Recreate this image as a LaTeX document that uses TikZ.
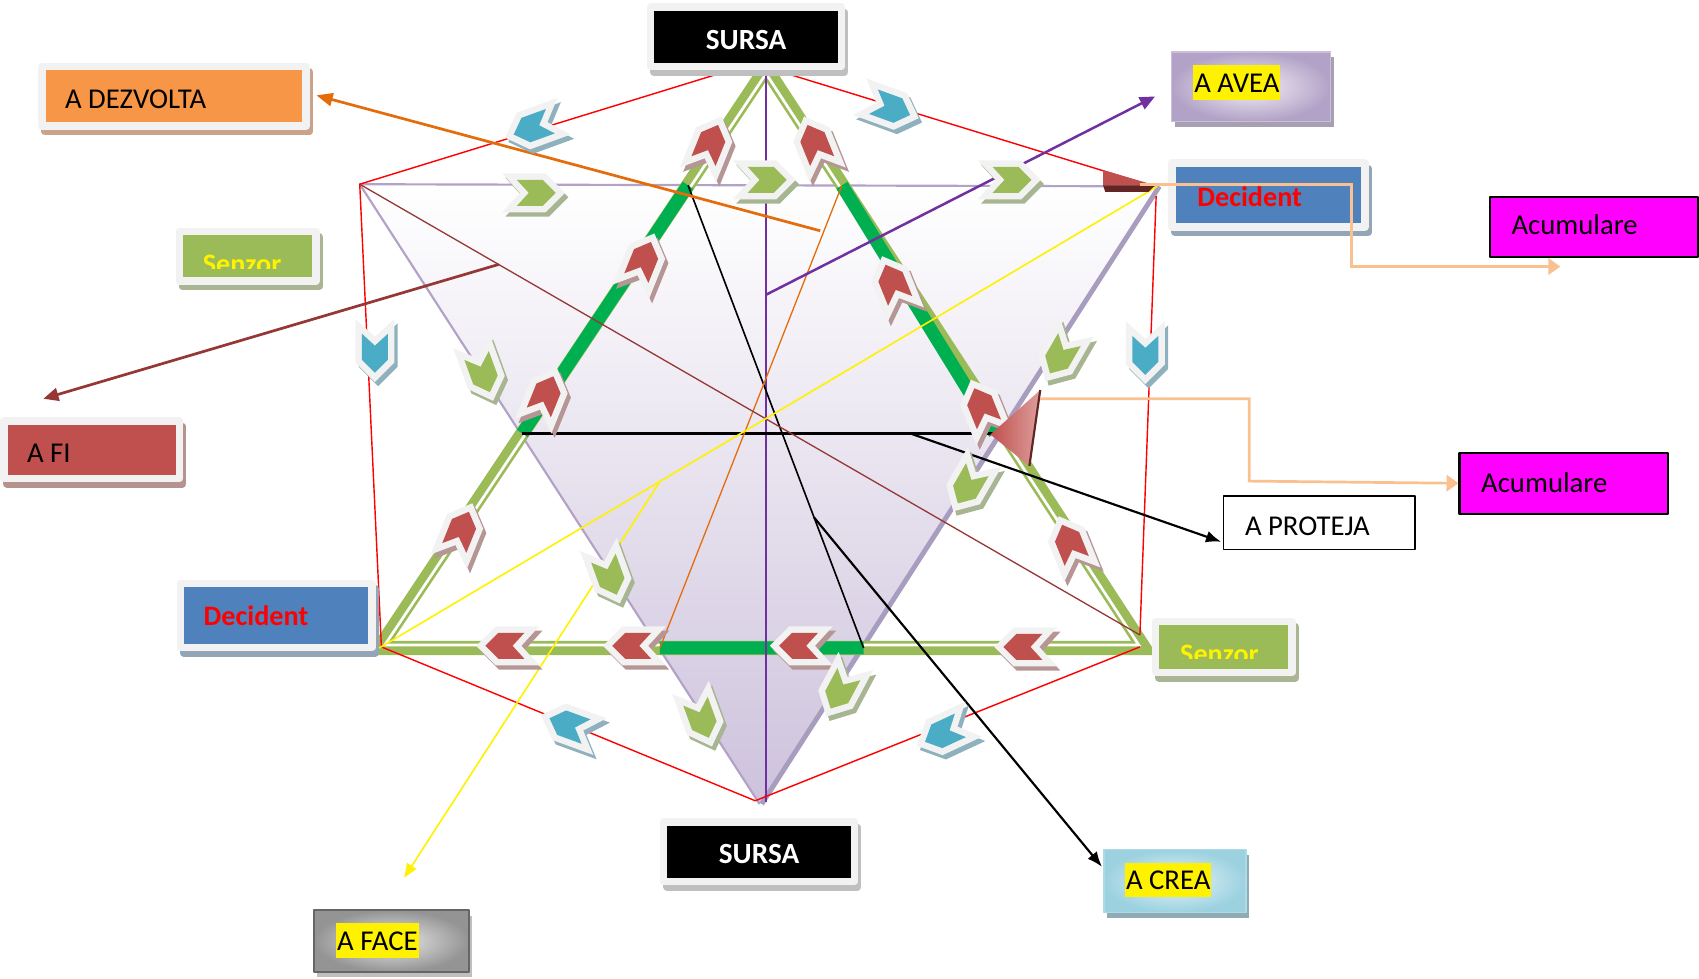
\documentclass[tikz,border=0pt]{standalone}
\usepackage{fontspec}
\setmainfont{Carlito}
\usetikzlibrary{arrows.meta,calc}
\definecolor{frm}{HTML}{F2F2F2}
\definecolor{redb}{HTML}{C0504D}
\definecolor{blueb}{HTML}{4F81BD}
\definecolor{greenb}{HTML}{9BBB59}
\definecolor{orangeb}{HTML}{F79646}
\definecolor{cyanb}{HTML}{4BACC6}
\definecolor{brightg}{HTML}{00B050}
\definecolor{purp}{HTML}{7030A0}
\definecolor{orl}{HTML}{E46C0A}
\definecolor{brn}{HTML}{953735}
\definecolor{peach}{HTML}{FAC090}
\definecolor{lavl}{HTML}{B3A2C7}
\definecolor{lavf}{HTML}{CDC2DC}
\definecolor{lave}{HTML}{A89CBF}
\definecolor{shR}{HTML}{B69694}
\definecolor{shG}{HTML}{A8B592}
\definecolor{shB}{HTML}{8FB1BE}
\definecolor{shO}{HTML}{CBA38A}
\definecolor{shK}{HTML}{BFBFBF}
\definecolor{shBl}{HTML}{95A5B8}
\definecolor{shGb}{HTML}{A9B593}
\definecolor{shRb}{HTML}{B59490}
\definecolor{shAv}{HTML}{A7A0B3}
\definecolor{shCr}{HTML}{8FABB5}
\definecolor{magb}{HTML}{FF00FF}
\definecolor{dkred}{HTML}{632523}
\newcommand\lbl{\fontsize{26.5pt}{30pt}\selectfont}
\newcommand\lblb{\fontsize{26pt}{30pt}\selectfont\bfseries}
\newcommand\lbls{\fontsize{27pt}{30pt}\selectfont\bfseries}
% chevron: x, y, angle, fill colour, shadow colour
\newcommand\chev[5]{%
\filldraw[#5,line width=12pt,line join=miter,shift={(#1+3,#2+4)},rotate=#3] (-18,-12)--(6,-12)--(18,0)--(6,12)--(-18,12)--(-7,0)--cycle;
\filldraw[frm,line width=12pt,line join=miter,shift={(#1,#2)},rotate=#3] (-18,-12)--(6,-12)--(18,0)--(6,12)--(-18,12)--(-7,0)--cycle;
\fill[#4,shift={(#1,#2)},rotate=#3] (-18,-12)--(6,-12)--(18,0)--(6,12)--(-18,12)--(-7,0)--cycle;}
\tikzset{
  fbox/.style 2 args={fill=#1,draw=frm,line width=7pt,inner ysep=0pt,text depth=0pt,
    preaction={fill=#2,draw=#2,line width=7pt,transform canvas={shift={(3pt,-5pt)}}}},
  gbox/.style 2 args={shade,inner color=#1,outer color=#2,inner sep=0pt},
  hl/.style={fill=yellow,inner xsep=1pt,inner ysep=0pt,text height=25pt,text depth=7pt,font=\lbl,anchor=base west},
  plainbox/.style={draw=black,inner ysep=0pt,text depth=0pt,font=\lbl,align=flush left},
  redl/.style={red,line width=1.3pt},
}
\begin{document}
\begin{tikzpicture}[x=1pt,y=-1pt,line join=round]
\useasboundingbox (0,0) rectangle (1568,903);
% key points
\coordinate (T) at (707,63);
\coordinate (L1) at (332,170);
\coordinate (R1) at (1068,172);
\coordinate (B) at (701,742);
\coordinate (GL) at (350,598);
\coordinate (GR) at (1056,598);
\coordinate (I) at (705.2,408);
\coordinate (H1) at (635,171);
\coordinate (H2) at (777,171);
\coordinate (H3) at (918,400);
\coordinate (H4) at (797,598);
\coordinate (H5) at (609,598);
\coordinate (H6) at (482,400);
\coordinate (VB) at (707,740);
\coordinate (rTa) at (683,62);
\coordinate (rTb) at (707,62);
\coordinate (rL2) at (352,597);
\coordinate (rB) at (697,739);
\coordinate (rR2) at (1052,597);
\coordinate (rR2b) at (1052,586);
\coordinate (rR1) at (1067,181);
\coordinate (rR1a) at (1065,172);

% inverted triangle
\shade[top color=white,bottom color=lavf] (L1) -- (R1) -- (B) -- cycle;
\draw[lave,line width=4.5pt] ([xshift=2pt]R1) -- ([xshift=2pt]B);
\draw[lavl,line width=2pt] (R1) -- (L1) -- (B);

% upright double green triangle
\draw[greenb,line width=13pt,line join=miter] (T) -- (GL) -- (GR) -- cycle;
\draw[white,line width=2.5pt,line join=miter] ($(I)!0.9855!(T)$) -- ($(I)!0.9855!(GL)$) -- ($(I)!0.9855!(GR)$) -- cycle;
\draw[brightg,line width=12pt] (H1) -- (H6) (H2) -- (H3) (H5) -- (H4);

% straight lines
\draw[purp,line width=1.3pt] (T) -- (VB);
\draw[redl] (rTa) -- (L1) -- (rL2) -- (rB) -- (rR2);
\draw[redl] (rR2b) -- (rR1);
\draw[redl] (rTb) -- (rR1a);
\draw[black,line width=1.5pt] (H1) -- (H4);
\draw[black,line width=2pt] (H6) -- (H3);
\draw[orl,line width=1.2pt] (H5) -- (H2);
\draw[brn,line width=1.2pt] (L1) -- (rR2b);
\draw[yellow,line width=1.5pt] (GL) -- (R1);

% arrows to labels
\coordinate (aveaIn) at (1066,89);
\coordinate (dezvIn) at (292,88);
\coordinate (fiIn) at (40,368);
\coordinate (faceIn) at (373,810);
\coordinate (protIn) at (1127,500);
\coordinate (creaIn) at (1017,800);
\coordinate (oStart) at (757,213);
\draw[purp,line width=2.3pt,-{Triangle[length=14pt,width=12pt]}] (707,272) -- (aveaIn);
\draw[orl,line width=2.5pt,-{Triangle[length=15pt,width=12pt]}] (oStart) -- (dezvIn);
\draw[brn,line width=2.5pt,-{Triangle[length=14pt,width=12pt]}] ($(L1)!0.178!(rR2b)$) -- (fiIn);
\draw[yellow,line width=1.5pt,-{Triangle[length=13pt,width=10pt]}] ($(GL)!0.361!(R1)$) -- (faceIn);
\draw[black,line width=2pt,-{Latex[length=14pt,width=11pt]}] (840,400) -- (protIn);
\draw[black,line width=2pt,-{Latex[length=14pt,width=11pt]}] ($(H1)!0.718!(H4)$) -- (creaIn);

% red chevrons
\chev{656}{132}{68}{redb}{shR}
\chev{594}{240}{68}{redb}{shR}
\chev{504}{364}{68}{redb}{shR}
\chev{426}{489}{68}{redb}{shR}
\chev{752}{132}{112}{redb}{shR}
\chev{824}{261}{112}{redb}{shR}
\chev{906}{375}{112}{redb}{shR}
\chev{987}{501}{112}{redb}{shR}
\chev{466}{596}{180}{redb}{shR}
\chev{583}{596}{180}{redb}{shR}
\chev{737}{596}{180}{redb}{shR}
\chev{944}{597}{180}{redb}{shR}
% green chevrons
\chev{495}{178}{0}{greenb}{shG}
\chev{708}{166}{0}{greenb}{shG}
\chev{934}{166}{0}{greenb}{shG}
\chev{446}{345}{-70}{greenb}{shG}
\chev{563}{532}{-70}{greenb}{shG}
\chev{648}{664}{-70}{greenb}{shG}
\chev{978}{329}{-120}{greenb}{shG}
\chev{893}{449}{-120}{greenb}{shG}
\chev{775}{638}{-118}{greenb}{shG}
% blue chevrons
\chev{491}{118}{200}{cyanb}{shB}
\chev{823}{100}{-20}{cyanb}{shB}
\chev{346}{326}{-90}{cyanb}{shB}
\chev{1057}{328}{-90}{cyanb}{shB}
\chev{524}{669}{160}{cyanb}{shB}
\chev{870}{677}{205}{cyanb}{shB}

% red cones
\shade[left color=redb,right color=redb!55!white] (960,360) -- (914,401) -- (950,430) -- cycle;
\draw[dkred,line width=2pt] (960,360) -- (950,430);
\fill[redb] (1018,157) -- (1066,171) -- (1018,171) -- cycle;
\fill[dkred] (1018,171) -- (1066,171) -- (1060,177) -- (1020,177) -- cycle;

% framed boxes
\node[fbox={black}{shK},font=\lbls,text=white,minimum width=176pt,minimum height=55pt,text height=23pt] (sursaT) at (688.5,34) {SURSA};
\node[fbox={black}{shK},font=\lbls,text=white,minimum width=176pt,minimum height=55pt,text height=21pt] (sursaB) at (700.5,786) {SURSA};
\node[fbox={orangeb}{shO},font=\lbl,align=flush left,minimum width=244pt,minimum height=55pt,text width=201pt,inner xsep=21.5pt,text height=23pt] (dezv) at (160.5,89) {A DEZVOLTA};
\node[fbox={redb}{shRb},font=\lbl,align=flush left,minimum width=162pt,minimum height=53pt,text width=119pt,inner xsep=21.5pt,text height=23pt] (afi) at (84.5,415) {A FI};
\node[fbox={blueb}{shBl},font=\lblb,text=red,align=flush left,minimum width=177pt,minimum height=59pt,text width=134pt,inner xsep=21.5pt,text height=19pt] (decL) at (255,568) {Decident};
\node[fbox={blueb}{shBl},font=\lblb,text=red,align=flush left,minimum width=178pt,minimum height=59pt,text width=131pt,inner xsep=23.5pt,text height=21pt] (decR) at (1170.5,180) {Decident};
\node[fbox={greenb}{shGb},minimum width=126pt,minimum height=46pt,inner sep=0pt] (senzL) at (228.5,236.5) {};
\node[fbox={greenb}{shGb},minimum width=126pt,minimum height=47pt,inner sep=0pt] (senzR) at (1129.5,597) {};
\begin{scope}
\clip (169,217) rectangle (288,248);
\node[font=\lblb,text=yellow,anchor=base west,inner sep=0pt] (senzLt) at (187,252) {Senzor};
\end{scope}
\begin{scope}
\clip (1070,577) rectangle (1189,608);
\node[font=\lblb,text=yellow,anchor=base west,inner sep=0pt] (senzRt) at (1089,612) {Senzor};
\end{scope}

% plain boxes
\node[plainbox,fill=magb,line width=2pt,minimum width=192pt,minimum height=55pt,text width=152pt,inner xsep=20pt,text height=14pt] (acuT) at (1471,209.5) {Acumulare};
\node[plainbox,fill=magb,line width=2pt,minimum width=192pt,minimum height=56pt,text width=152pt,inner xsep=20pt,text height=17pt] (acuM) at (1443,446) {Acumulare};
\node[plainbox,fill=white,line width=1.5pt,minimum width=177pt,minimum height=49pt,text width=137pt,inner xsep=20pt,text height=24pt] (prot) at (1217.5,482.5) {A PROTEJA};

% gradient boxes
\node[gbox={white!85!lavl}{lavl},draw=lavl!70!white,line width=1.5pt,minimum width=147pt,minimum height=64pt,
  preaction={fill=shAv,transform canvas={shift={(3pt,-5pt)}}}] (avea) at (1154.5,80) {};
\node[hl] (aveaT) at (1101,85) {A AVEA};
\node[gbox={white!88!cyanb}{cyanb!55!white},draw=cyanb!45!white,line width=1.5pt,minimum width=131pt,minimum height=58pt,
  preaction={fill=shCr,transform canvas={shift={(3pt,-5pt)}}}] (crea) at (1084.5,813) {};
\node[hl] (creaT) at (1038,821) {A CREA};
\node[gbox={black!8}{black!42},draw=black!60,line width=2pt,minimum width=143pt,minimum height=57pt,
  preaction={fill=shK,transform canvas={shift={(3pt,-5pt)}}}] (face) at (361.5,868.5) {};
\node[hl] (faceT) at (310,877) {A FACE};

% peach connectors
\coordinate (p1a) at (1052,170);
\coordinate (p1b) at (1247,170);
\coordinate (p1c) at (1247,246);
\coordinate (p1d) at (1440,246);
\draw[peach,line width=2.5pt,line join=miter,-{Triangle[length=11pt,width=15pt]}] (p1a) -- (p1b) -- (p1c) -- (p1d);
\coordinate (p2a) at (960,368);
\coordinate (p2b) at (1153,368);
\coordinate (p2c) at (1153,444);
\draw[peach,line width=2.5pt,line join=miter,-{Triangle[length=11pt,width=15pt]}] (p2a) -- (p2b) -- (p2c) -- (acuM.west);
\end{tikzpicture}
\end{document}
